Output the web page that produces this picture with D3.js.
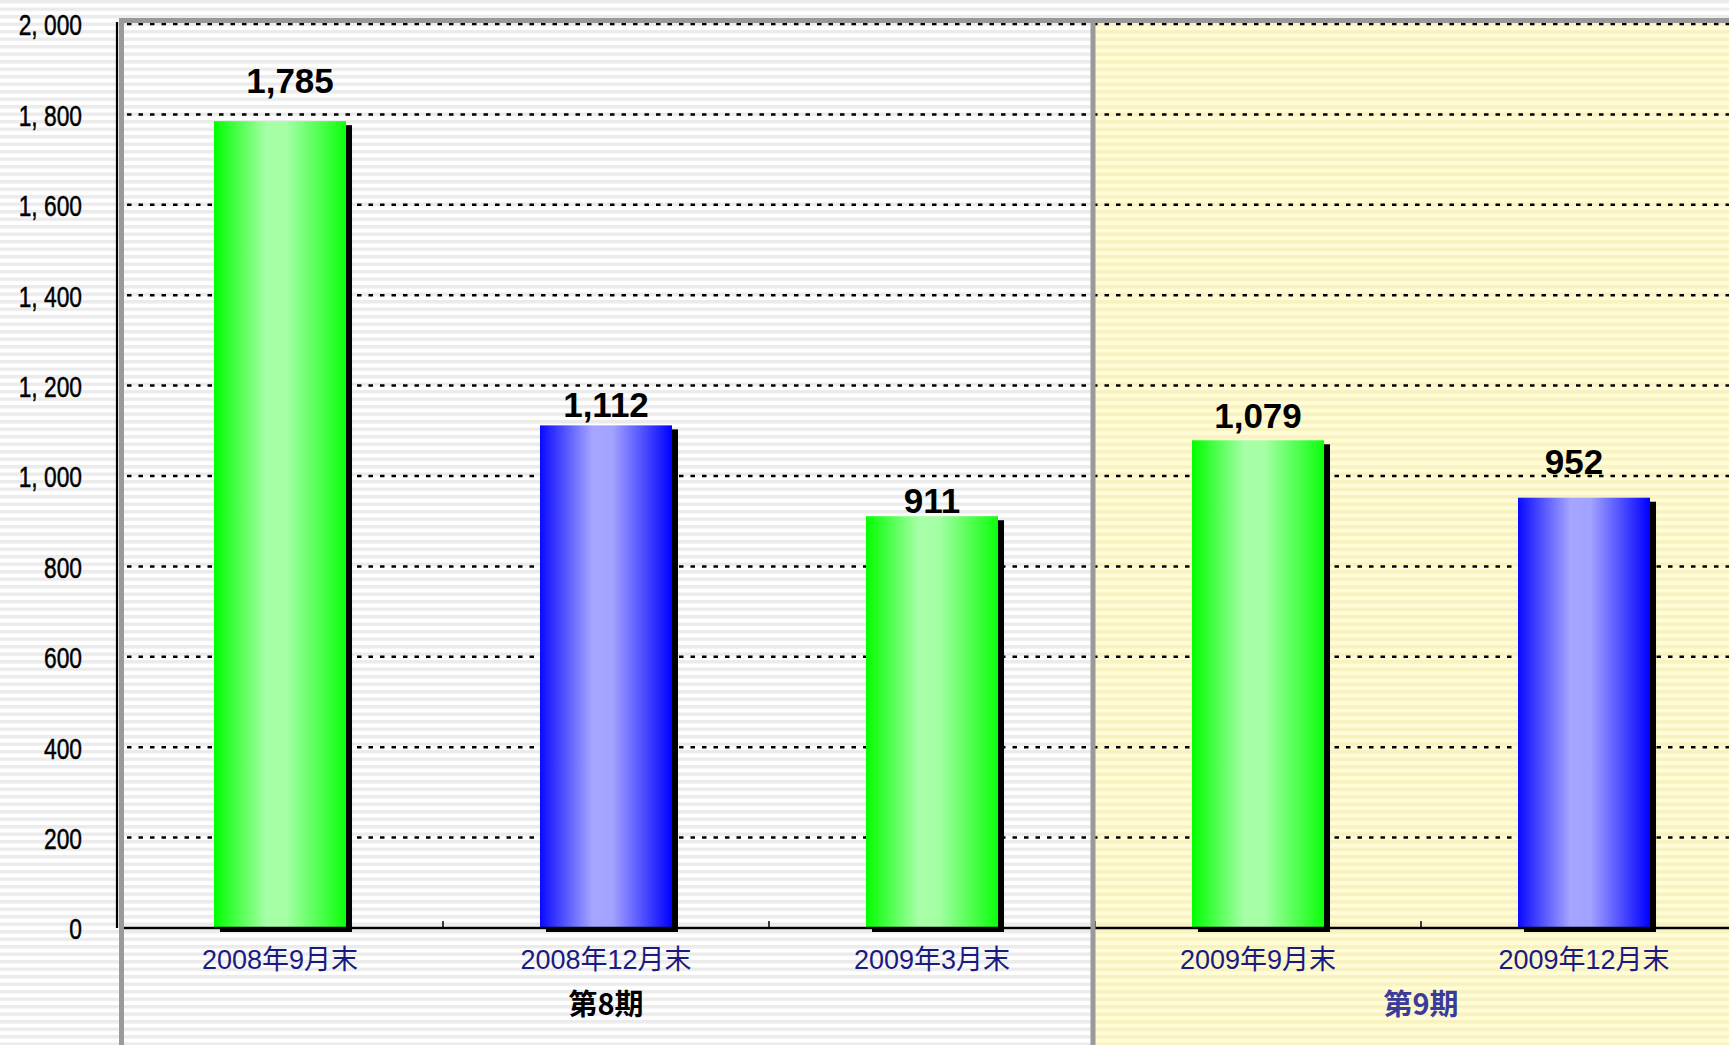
<!DOCTYPE html>
<html>
<head>
<meta charset="utf-8">
<script src="https://cdn.jsdelivr.net/npm/d3@7/dist/d3.min.js"></script>
<style>
  html, body { margin: 0; padding: 0; background: #fff; overflow: hidden; }
  svg { display: block; }
</style>
</head>
<body>
<svg id="chart" width="1729" height="1045"></svg>
<script>
// ---- data ----
const categories = ["2008年9月末", "2008年12月末", "2009年3月末", "2009年9月末", "2009年12月末"];
const values = [1785, 1112, 911, 1079, 952];
const barColorKeys = ["green", "blue", "green", "green", "blue"];
const periods = ["第8期", "第9期"];
const periodOfCategory = [0, 0, 0, 1, 1];
const yTicks = [0, 200, 400, 600, 800, 1000, 1200, 1400, 1600, 1800, 2000];

// ---- layout / style (not data) ----
const W = 1729, H = 1045;
const labelShift = [[10, 28], [0, 8], [0, 3], [0, 12], [-10, 24]]; // [dx, gap above bar]
const periodColors = ["#000000", "#3b3b9b"];

const svg = d3.select("#chart");
const defs = svg.append("defs");

function stripes(id, base, stripe) {
  const p = defs.append("pattern").attr("id", id)
    .attr("patternUnits", "userSpaceOnUse").attr("width", 8).attr("height", 7.5);
  p.append("rect").attr("width", 8).attr("height", 7.5).attr("fill", base);
  p.append("rect").attr("y", 0).attr("width", 8).attr("height", 3.5).attr("fill", stripe);
}
stripes("grayStripes", "#ffffff", "#ebebeb");
stripes("yellowStripes", "#fffcd6", "#f7f2c0");

function grad(id, stops) {
  const g = defs.append("linearGradient").attr("id", id)
    .attr("x1", "0%").attr("x2", "100%").attr("y1", "0%").attr("y2", "0%");
  stops.forEach(([o, c]) => g.append("stop").attr("offset", o).attr("stop-color", c));
}
grad("green", [["0%", "#00ff00"], ["40%", "#a8ffa8"], ["55%", "#a4ffa4"], ["100%", "#0cff0c"]]);
grad("blue", [["0%", "#0a0aff"], ["40%", "#a6a6ff"], ["55%", "#a2a2ff"], ["100%", "#0000ff"]]);

// ---- scales ----
const x = d3.scaleBand().domain(categories).range([117, 1747])
  .paddingInner(0.595).paddingOuter(0.2975);
const y = d3.scaleLinear().domain([0, 2000]).range([928, 24]);
const step = x.step();
const bw = x.bandwidth();
const boundary = i => x(categories[i]) + bw + step * x.paddingInner() / 2; // right boundary of band i

const plotLeft = x.range()[0];
const plotTop = y(2000) - 6;
const dividerX = boundary(2);

// ---- backgrounds ----
svg.append("rect").attr("width", W).attr("height", H).attr("fill", "url(#grayStripes)");
svg.append("rect").attr("x", dividerX).attr("y", plotTop).attr("width", W - dividerX).attr("height", H - plotTop)
  .attr("fill", "url(#yellowStripes)");

// ---- gridlines ----
svg.append("g").selectAll("line").data(yTicks.filter(d => d > 0)).join("line")
  .attr("x1", plotLeft + 10).attr("x2", W)
  .attr("y1", d => y(d)).attr("y2", d => y(d))
  .attr("stroke", "#000").attr("stroke-width", 2.5).attr("stroke-dasharray", "4.5,7");

// ---- bars ----
const bars = svg.append("g");
bars.selectAll("rect.shadow").data(values).join("rect").attr("class", "shadow")
  .attr("x", (d, i) => x(categories[i]) + 6).attr("y", d => y(d) + 4)
  .attr("width", bw).attr("height", d => y(0) - y(d))
  .attr("fill", "#000");
bars.selectAll("rect.bar").data(values).join("rect").attr("class", "bar")
  .attr("x", (d, i) => x(categories[i])).attr("y", d => y(d))
  .attr("width", bw).attr("height", d => y(0) - y(d))
  .attr("fill", (d, i) => `url(#${barColorKeys[i]})`);

// ---- frame lines ----
svg.append("line").attr("x1", plotLeft).attr("x2", plotLeft)
  .attr("y1", plotTop + 4).attr("y2", y(0))
  .attr("stroke", "#000").attr("stroke-width", 2.2);
svg.append("line").attr("x1", plotLeft + 5).attr("x2", W)
  .attr("y1", y(0)).attr("y2", y(0))
  .attr("stroke", "#000").attr("stroke-width", 2.6);
svg.append("g").selectAll("line").data([0, 1, 2, 3]).join("line")
  .attr("x1", i => boundary(i)).attr("x2", i => boundary(i))
  .attr("y1", y(0)).attr("y2", y(0) - 7)
  .attr("stroke", "#000").attr("stroke-width", 1.5);
svg.append("rect").attr("x", plotLeft + 2).attr("y", plotTop).attr("width", 5).attr("height", H - plotTop).attr("fill", "#9a9a9a");
svg.append("rect").attr("x", plotLeft + 2).attr("y", plotTop).attr("width", W - plotLeft).attr("height", 5).attr("fill", "#9a9a9a");
svg.append("rect").attr("x", dividerX - 4.5).attr("y", plotTop).attr("width", 5).attr("height", H - plotTop).attr("fill", "#9a9a9a");

// ---- y axis labels ----
const yAxis = d3.axisLeft(y).tickValues(yTicks).tickSize(0).tickPadding(0)
  .tickFormat(d => d3.format(",")(d).replace(",", ", "));
const gy = svg.append("g").attr("transform", "translate(82,0)").call(yAxis);
gy.select(".domain").remove();
gy.selectAll("text")
  .attr("font-family", "'Liberation Sans', Arial, sans-serif")
  .attr("font-size", 30).attr("fill", "#000")
  .attr("stroke", "#000").attr("stroke-width", 0.5)
  .attr("dy", "0.36em")
  .attr("transform", "scale(0.76,1)");

// ---- x axis labels ----
const xAxis = d3.axisBottom(x).tickSize(0).tickPadding(0);
const gx = svg.append("g").attr("transform", `translate(0,${y(0)})`).call(xAxis);
gx.select(".domain").remove();
gx.selectAll("text")
  .attr("font-family", "'Liberation Sans', 'Noto Sans CJK JP', sans-serif")
  .attr("font-size", 27).attr("fill", "#1a1a82")
  .attr("y", 41).attr("dy", 0);

// ---- period labels ----
svg.append("g").selectAll("text").data(periods).join("text")
  .attr("x", (p, pi) => {
    const idx = categories.map((c, i) => i).filter(i => periodOfCategory[i] === pi);
    return d3.mean(idx, i => x(categories[i]) + bw / 2);
  })
  .attr("y", 1015)
  .attr("text-anchor", "middle")
  .attr("font-family", "'Noto Sans CJK JP', sans-serif")
  .attr("font-weight", "bold").attr("font-size", 29)
  .attr("fill", (p, i) => periodColors[i])
  .text(p => p);

// ---- value labels ----
svg.append("g").selectAll("text").data(values).join("text")
  .attr("x", (d, i) => x(categories[i]) + bw / 2 + labelShift[i][0])
  .attr("y", (d, i) => y(d) - labelShift[i][1])
  .attr("text-anchor", "middle")
  .attr("font-family", "'Liberation Sans', Arial, sans-serif")
  .attr("font-weight", "bold").attr("font-size", 35).attr("fill", "#000")
  .text(d => d3.format(",")(d));
</script>
</body>
</html>
